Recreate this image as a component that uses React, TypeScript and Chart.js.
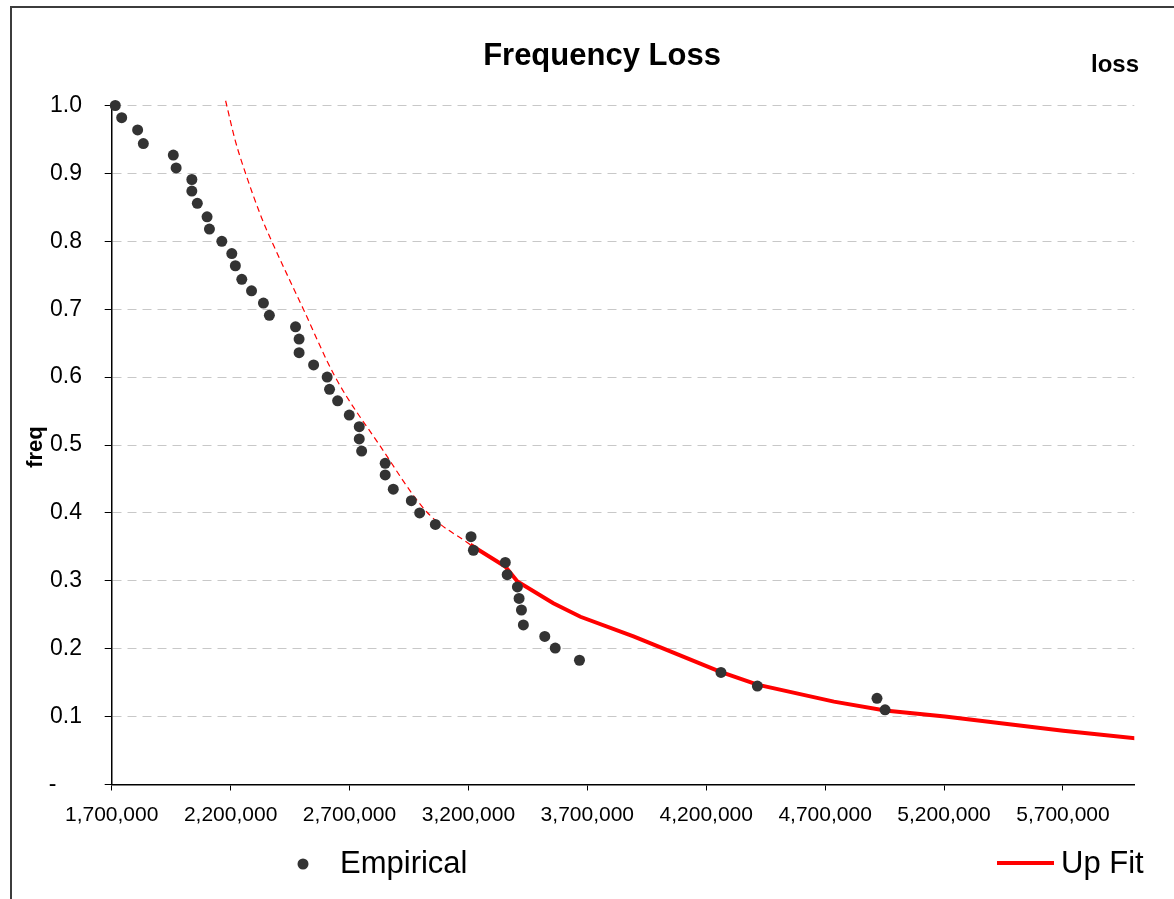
import React, { useEffect, useRef } from 'react';
import { Chart, registerables } from 'chart.js';

Chart.register(...registerables);

const FONT = '"Liberation Sans", Arial, Helvetica, sans-serif';

// Empirical points (loss, freq)
const empiricalLoss = [
  1715000, 1742000, 1809000, 1833000, 1959000, 1971000, 2037000, 2037000, 2060000, 2101000,
  2111000, 2163000, 2205000, 2220000, 2247000, 2288000, 2338000, 2363000, 2473000, 2488000,
  2488000, 2549000, 2606000, 2616000, 2650000, 2699000, 2741000, 2741000, 2751000, 2850000,
  2850000, 2884000, 2960000, 2995000, 3061000, 3211000, 3221000, 3355000, 3363000, 3406000,
  3413000, 3423000, 3431000, 3521000, 3565000, 3667000, 4262000, 4415000, 4918000, 4952000,
];
const empiricalFreq = [
  1.0, 0.982, 0.964, 0.944, 0.927, 0.908, 0.891, 0.874, 0.856, 0.836,
  0.818, 0.8, 0.782, 0.764, 0.744, 0.727, 0.709, 0.691, 0.674, 0.656,
  0.636, 0.618, 0.6, 0.582, 0.565, 0.544, 0.527, 0.509, 0.491, 0.473,
  0.456, 0.435, 0.418, 0.4, 0.383, 0.365, 0.345, 0.327, 0.309, 0.291,
  0.274, 0.257, 0.235, 0.218, 0.201, 0.183, 0.165, 0.145, 0.127, 0.11,
];

// Up Fit (solid part)
const fitLoss = [
  3208000, 3355000, 3406000, 3557000, 3671000, 3894000, 4036000, 4260000, 4415000, 4737000,
  4952000, 5204000, 5701000, 6030000,
];
const fitFreq = [
  0.353, 0.321, 0.299, 0.267, 0.247, 0.218, 0.198, 0.166, 0.147, 0.122,
  0.109, 0.1, 0.079, 0.067,
];

// Up Fit extrapolation (dashed part)
const extLoss = [2179000, 2219000, 2261000, 2331000, 2373000, 2506000, 2640000, 2826000, 3026000, 3208000];
const extFreq = [1.007, 0.949, 0.902, 0.834, 0.8, 0.7, 0.6, 0.5, 0.401, 0.353];

const xTickValues = [1700000, 2200000, 2700000, 3200000, 3700000, 4200000, 4700000, 5200000, 5700000];
const xMin = 1700000;
const xMax = 6000000;
const yMin = 0;
const yMax = 1;
const yStep = 0.1;

const chartTitle = 'Frequency Loss';
const xAxisTitle = 'loss';
const yAxisTitle = 'freq';
const legendLabels = ['Empirical', 'Up Fit'];

const decorPlugin = {
  id: 'decor',
  beforeDraw(chart: any) {
    const ctx = chart.ctx;
    ctx.save();
    ctx.fillStyle = '#ffffff';
    ctx.fillRect(0, 0, chart.width, chart.height);
    ctx.strokeStyle = '#3c3c3c';
    ctx.lineWidth = 2;
    ctx.strokeRect(11, 7, 1400, 1200);
    ctx.restore();
  },
  afterDraw(chart: any) {
    const ctx = chart.ctx;
    const ds0 = chart.data.datasets[0];
    const ds1 = chart.data.datasets[1];
    ctx.save();
    ctx.fillStyle = '#000';
    ctx.textAlign = 'center';
    ctx.textBaseline = 'alphabetic';
    ctx.font = `bold 31px ${FONT}`;
    ctx.fillText(chartTitle, 602, 65);
    ctx.font = `bold 24px ${FONT}`;
    ctx.fillText(xAxisTitle, 1115, 72);

    ctx.save();
    ctx.translate(36, 447);
    ctx.rotate(-Math.PI / 2);
    ctx.font = `bold 22px ${FONT}`;
    ctx.textBaseline = 'middle';
    ctx.fillText(yAxisTitle, 0, 0);
    ctx.restore();

    // legend
    ctx.beginPath();
    ctx.arc(303, 864, 5.5, 0, Math.PI * 2);
    ctx.fillStyle = ds0.pointBackgroundColor;
    ctx.fill();
    ctx.beginPath();
    ctx.strokeStyle = ds1.borderColor;
    ctx.lineWidth = ds1.borderWidth;
    ctx.moveTo(997, 863);
    ctx.lineTo(1054, 863);
    ctx.stroke();
    ctx.fillStyle = '#000';
    ctx.font = `31px ${FONT}`;
    ctx.textAlign = 'left';
    ctx.textBaseline = 'alphabetic';
    ctx.fillText(legendLabels[0], 340, 873);
    ctx.fillText(legendLabels[1], 1061, 873);
    ctx.restore();
  },
};

export default function App() {
  const canvasRef = useRef<HTMLCanvasElement | null>(null);

  useEffect(() => {
    if (!canvasRef.current) return;
    const chart = new Chart(canvasRef.current, {
      type: 'scatter',
      data: {
        datasets: [
          {
            label: legendLabels[0],
            data: empiricalLoss.map((x, i) => ({ x, y: empiricalFreq[i] })),
            showLine: false,
            clip: false,
            pointRadius: 5.5,
            pointBorderWidth: 0,
            pointBackgroundColor: '#333333',
            pointBorderColor: '#333333',
          },
          {
            label: legendLabels[1],
            data: fitLoss.map((x, i) => ({ x, y: fitFreq[i] })),
            showLine: true,
            borderColor: '#ff0000',
            borderWidth: 4,
            pointRadius: 0,
            tension: 0,
            fill: false,
          },
          {
            label: 'Up Fit extrapolation',
            data: extLoss.map((x, i) => ({ x, y: extFreq[i] })),
            showLine: true,
            clip: false,
            borderColor: '#ff0000',
            borderWidth: 1.2,
            borderDash: [6, 4],
            pointRadius: 0,
            cubicInterpolationMode: 'monotone',
            fill: false,
          },
        ],
      } as any,
      options: {
        animation: false,
        responsive: false,
        events: [],
        layout: { padding: { left: 0, top: 105.5, right: 39.7, bottom: 54.5 } },
        plugins: {
          legend: { display: false },
          title: { display: false },
          tooltip: { enabled: false },
        },
        scales: {
          x: {
            type: 'linear',
            min: xMin,
            max: xMax,
            afterBuildTicks: (s: any) => {
              s.ticks = xTickValues.map((v) => ({ value: v }));
            },
            afterFit: (s: any) => {
              s.height = 60;
            },
            ticks: {
              autoSkip: false,
              maxRotation: 0,
              padding: 12,
              color: '#000',
              font: { family: FONT, size: 21 },
              callback: (v: any) => Number(v).toLocaleString('en-US'),
            },
            grid: {
              drawOnChartArea: false,
              drawTicks: true,
              tickLength: 6,
              tickColor: '#000',
              tickWidth: 1,
            },
            border: { display: true, color: '#000', width: 1.5 },
          },
          y: {
            type: 'linear',
            min: yMin,
            max: yMax,
            afterFit: (s: any) => {
              s.width = 111.7;
            },
            ticks: {
              stepSize: yStep,
              padding: 22.7,
              color: '#000',
              font: { family: FONT, size: 23 },
              callback: (v: any) => (Math.abs(Number(v)) < 1e-9 ? '-    ' : Number(v).toFixed(1)),
            },
            grid: {
              color: '#c8c8c8',
              lineWidth: 1,
              tickLength: 7,
              tickColor: '#000',
              tickWidth: 1,
            },
            border: { display: true, color: '#000', width: 1.5, dash: [9, 6] },
          },
        },
      } as any,
      plugins: [decorPlugin],
    });
    return () => chart.destroy();
  }, []);

  return (
    <div style={{ position: 'fixed', left: 0, top: 0, width: 1174, height: 899, background: '#fff' }}>
      <canvas ref={canvasRef} width={1174} height={899} style={{ display: 'block' }} />
    </div>
  );
}
